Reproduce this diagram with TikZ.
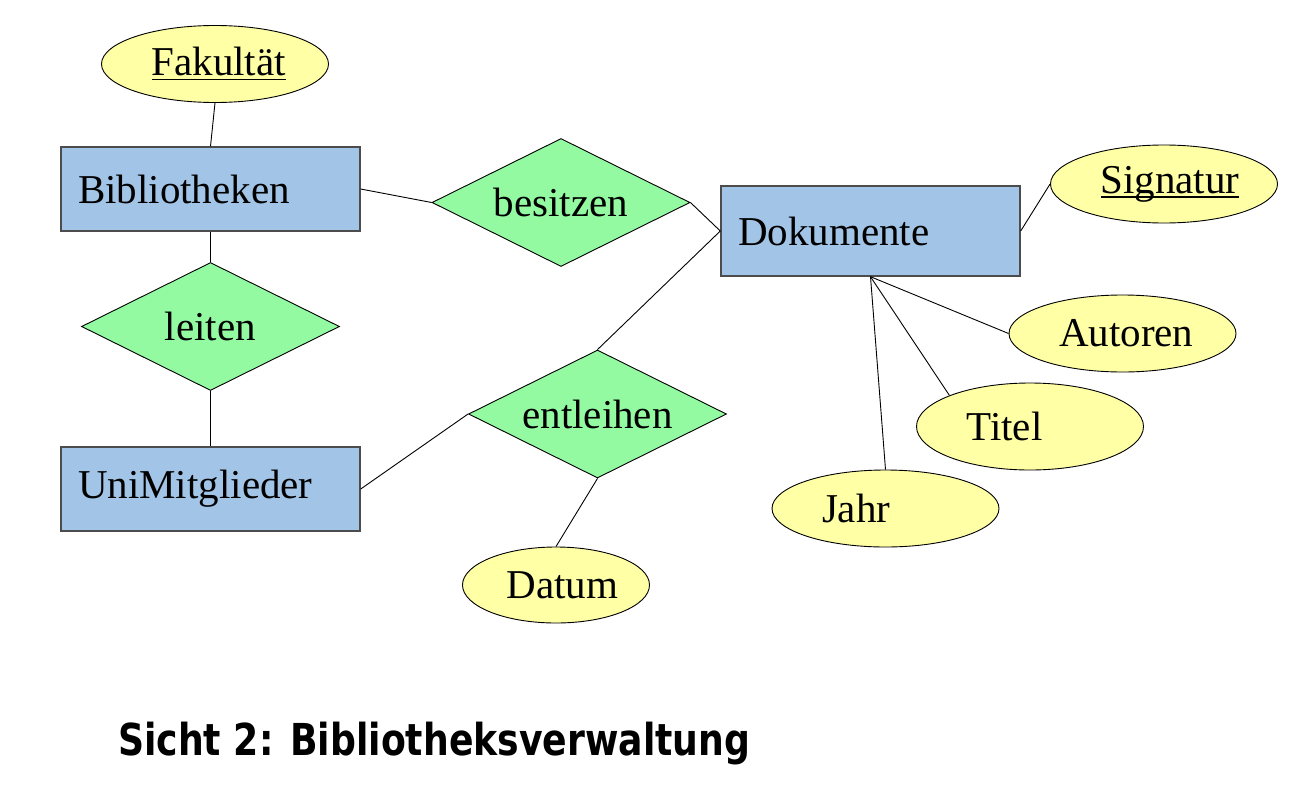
\documentclass[tikz,border=0pt]{standalone}
\usepackage{fontspec}
\setmainfont{Liberation Serif}
\newfontfamily\titelfont{DejaVu Sans}
\usepackage{graphicx}
\usetikzlibrary{shapes.geometric}
\newsavebox\schlbox
\newcommand{\schluessel}[1]{\sbox\schlbox{#1}\rlap{\rule[-4.5pt]{\wd\schlbox}{1.8pt}}\usebox\schlbox}
\definecolor{entblau}{RGB}{162,196,230}
\definecolor{relgruen}{RGB}{148,250,162}
\definecolor{attgelb}{RGB}{255,255,166}
\tikzset{
  entitaet/.style={rectangle,draw=black!70,line width=1.4pt,fill=entblau,text width=265pt,align=left,inner xsep=17pt,inner ysep=0pt,minimum height=84pt},
  beziehung/.style={diamond,aspect=2,draw,line width=0.9pt,fill=relgruen,inner sep=0pt,minimum width=258pt,minimum height=128pt},
  attribut/.style={ellipse,draw,line width=0.9pt,fill=attgelb,inner sep=0pt,minimum width=227pt,minimum height=77pt,text width=127pt,align=left},
  verb/.style={line width=0.9pt}
}

\begin{document}
\begin{tikzpicture}[x=1pt,y=-1pt,font=\fontsize{41}{49}\selectfont]
        \useasboundingbox (0,0) rectangle (1316,808);

        \node[entitaet] (bib) at (210.5,189) {Bibliotheken};
        \node[entitaet,minimum height=90pt] (dok) at (870.5,231) {Dokumente};
        \node[entitaet] (uni) at (210.5,489) {UniMitglieder};

        \node[beziehung] (bes) at (561,202.5) {besitzen};
        \node[beziehung] (lei) at (210.5,326.5) {leiten};
        \node[beziehung] (ent) at (597.5,414) {entleihen};

        \node[attribut] (fak) at (215,64) {\schluessel{Fakultät}};
        \node[attribut,minimum height=78pt] (sig) at (1164,184) {\schluessel{Signatur}};
        \node[attribut] (aut) at (1122.5,333.5) {Autoren};
        \node[attribut,minimum height=87pt] (tit) at (1030,426.5) {Titel};
        \node[attribut] (jahr) at (885.5,508.5) {Jahr};
        \node[attribut,minimum width=187pt,minimum height=76pt,text width=99pt] (dat) at (556,585) {Datum};

        \draw[verb] (fak.south) -- (bib.north);
        \draw[verb] (bib.east) -- (bes.west);
        \draw[verb] (bes.east) -- (dok.west);
        \draw[verb] (bib.south) -- (lei.north);
        \draw[verb] (lei.south) -- (uni.north);
        \draw[verb] (uni.east) -- (ent.west);
        \draw[verb] (dok.west) -- (ent.north);
        \draw[verb] (ent.south) -- (dat.north);
        \draw[verb] (dok.east) -- (sig.west);
        \draw[verb] (dok.south) -- (aut.west);
        \draw[verb] (dok.south) -- (tit.north west);
        \draw[verb] (dok.south) -- (jahr.north);

        \node[anchor=base west,inner sep=0pt] (titel) at (118,755) {\resizebox{632pt}{\height}{\titelfont\bfseries\fontsize{44}{52}\selectfont Sicht 2: Bibliotheksverwaltung}};
      \end{tikzpicture}
\end{document}
